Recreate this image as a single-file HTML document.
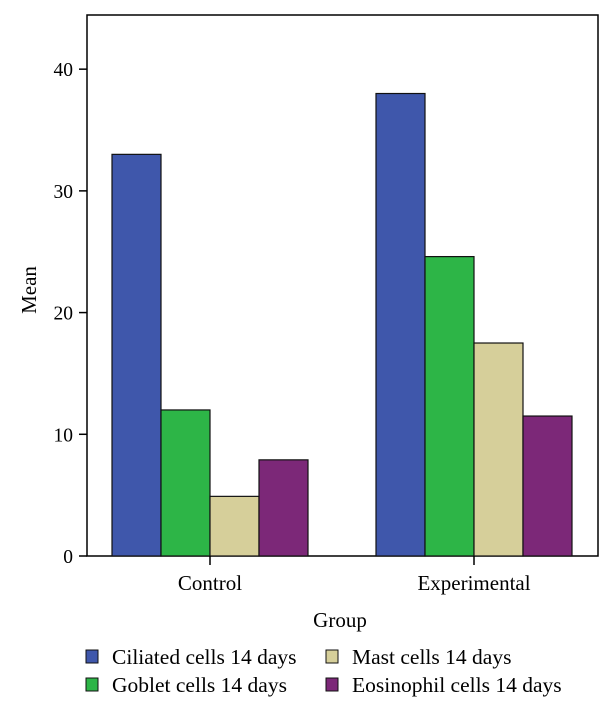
<!DOCTYPE html>
<html><head><meta charset="utf-8"><style>
html,body{margin:0;padding:0;background:#fff;}
svg{display:block;font-family:"Liberation Serif",serif;}
</style></head><body>
<svg id="chart" width="610" height="713"></svg>
<script>
const categories = ["Control", "Experimental"];
const seriesNames = ["Ciliated cells 14 days", "Goblet cells 14 days", "Mast cells 14 days", "Eosinophil cells 14 days"];
const ciliated = [33, 38];
const goblet = [12, 24.6];
const mast = [4.9, 17.5];
const eosinophil = [7.9, 11.5];
const yTicks = [0, 10, 20, 30, 40];
const colors = ["#3f57ab", "#2db547", "#d6cf9a", "#7c2878"];
const series = [ciliated, goblet, mast, eosinophil];

const NS = "http://www.w3.org/2000/svg";
const svg = document.getElementById("chart");
const L = 87, R = 598, T = 15, B = 556, yMax = 44.45;
function y(v){ return B - (v / yMax) * (B - T); }
const groupCenters = [210, 474];
const barW = 49;
function x(ci, si){ return groupCenters[ci] - 2 * barW + si * barW; }
function el(tag, attrs){ const e = document.createElementNS(NS, tag); for (const k in attrs) e.setAttribute(k, attrs[k]); svg.appendChild(e); return e; }

const frame = el("rect", {x: L, y: T, width: R - L, height: B - T, fill: "none", stroke: "#000", "stroke-width": 1.5});



series.forEach((vals, si) => {
  vals.forEach((v, ci) => {
    const r = el("rect", {x: x(ci, si), y: y(v), width: barW, height: B - y(v), fill: colors[si], stroke: "#111", "stroke-width": 1.2});
    
    
  });
});

yTicks.forEach(t => {
  const ln = el("line", {x1: L - 8, x2: L, y1: y(t), y2: y(t), stroke: "#000", "stroke-width": 1.5});
  
  
  const tx = el("text", {x: L - 14, y: y(t) + 7, "text-anchor": "end", "font-size": 19.5});
  tx.textContent = t;
  
  
});
categories.forEach((c, ci) => {
  const ln = el("line", {x1: groupCenters[ci], x2: groupCenters[ci], y1: B, y2: B + 9, stroke: "#000", "stroke-width": 1.5});
  
  
  const tx = el("text", {x: groupCenters[ci], y: B + 34, "text-anchor": "middle", "font-size": 21});
  tx.textContent = c;
  
  
});
const xt = el("text", {x: 340, y: 627, "text-anchor": "middle", "font-size": 21});
xt.textContent = "Group";


const yt = el("text", {x: 0, y: 0, "text-anchor": "middle", "font-size": 21, transform: "translate(36,290) rotate(-90)"});
yt.textContent = "Mean";



const legPos = [[86, 664], [86, 692], [326, 664], [326, 692]];
seriesNames.forEach((n, i) => {
  const [lx, ly] = legPos[i];
  const sq = el("rect", {x: lx, y: ly - 14, width: 12, height: 13, fill: colors[i], stroke: "#111", "stroke-width": 1});
  
  
  const tx = el("text", {x: lx + 26, y: ly, "font-size": 21.5});
  tx.textContent = n;
  
  
});
</script>
</body></html>
